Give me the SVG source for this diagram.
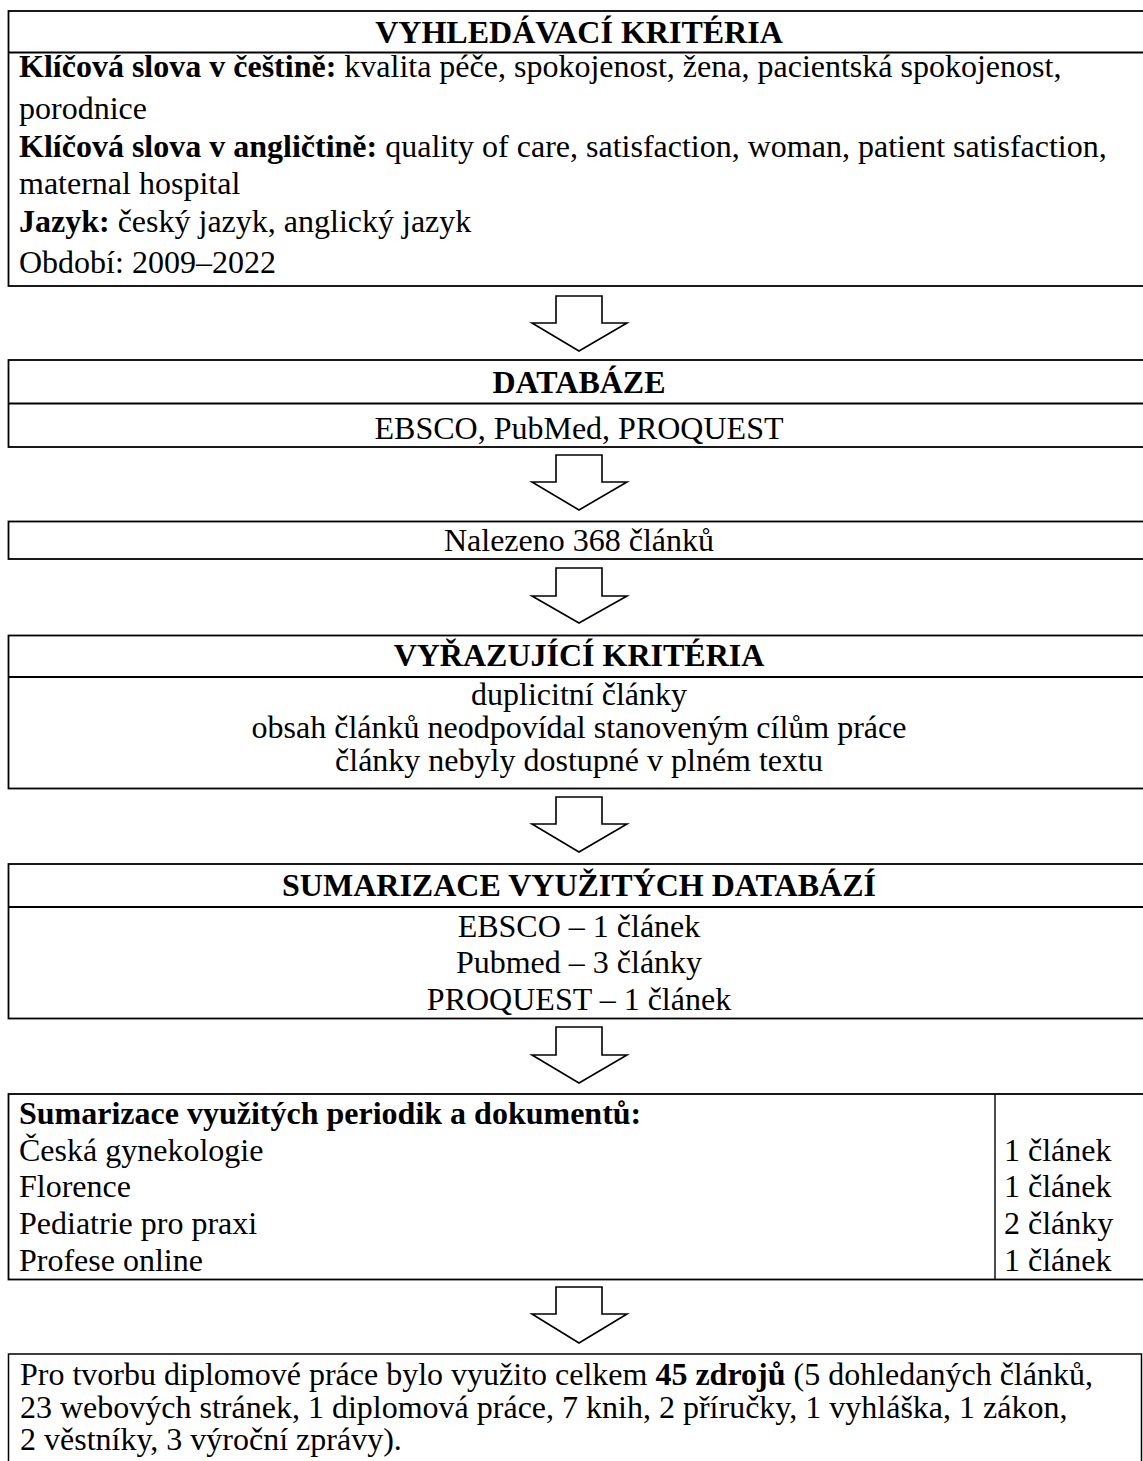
<svg xmlns="http://www.w3.org/2000/svg" width="1143" height="1461" viewBox="0 0 1143 1461">
<style>
  .box { fill: #ffffff; stroke: #000000; stroke-width: 1.8; }
  .ln { stroke: #000000; stroke-width: 1.8; fill: none; }
  .thin { stroke: #000000; stroke-width: 1.4; fill: none; }
  .arrow { fill: #ffffff; stroke: #000000; stroke-width: 1.6; stroke-linejoin: miter; }
  text { font-family: "Liberation Serif", "Times New Roman", serif; font-size: 32px; fill: #000000; }
  .b { font-weight: bold; }
  .c { text-anchor: middle; }
</style>
<rect x="0" y="0" width="1143" height="1461" fill="#ffffff"/>

<g id="node-vyhledavaci">
  <rect class="box" x="8.5" y="11" width="1142" height="275"/>
  <line class="ln" x1="8.5" y1="52.5" x2="1150" y2="52.5"/>
  <text class="b c" x="579" y="43">VYHLEDÁVACÍ KRITÉRIA</text>
  <text x="19" y="77"><tspan class="b">Klíčová slova v češtině:</tspan> kvalita péče, spokojenost, žena, pacientská spokojenost,</text>
  <text x="19" y="119">porodnice</text>
  <text x="19" y="157"><tspan class="b">Klíčová slova v angličtině:</tspan> quality of care, satisfaction, woman, patient satisfaction,</text>
  <text x="19" y="194">maternal hospital</text>
  <text x="19" y="232"><tspan class="b">Jazyk:</tspan> český jazyk, anglický jazyk</text>
  <text x="19" y="273">Období: 2009–2022</text>
</g>

<g id="node-databaze">
  <rect class="box" x="8.5" y="360" width="1142" height="87"/>
  <line class="ln" x1="8.5" y1="403.5" x2="1150" y2="403.5"/>
  <text class="b c" x="579" y="393">DATABÁZE</text>
  <text class="c" x="579" y="439">EBSCO, PubMed, PROQUEST</text>
</g>

<g id="node-nalezeno">
  <rect class="box" x="8.5" y="521.5" width="1142" height="37.5"/>
  <text class="c" x="579" y="551">Nalezeno 368 článků</text>
</g>

<g id="node-vyrazujici">
  <rect class="box" x="8.5" y="635.5" width="1142" height="153"/>
  <line class="ln" x1="8.5" y1="677" x2="1150" y2="677"/>
  <text class="b c" x="579" y="666">VYŘAZUJÍCÍ KRITÉRIA</text>
  <text class="c" x="579" y="705">duplicitní články</text>
  <text class="c" x="579" y="738">obsah článků neodpovídal stanoveným cílům práce</text>
  <text class="c" x="579" y="771">články nebyly dostupné v plném textu</text>
</g>

<g id="node-sumarizace-databazi">
  <rect class="box" x="8.5" y="864" width="1142" height="154.5"/>
  <line class="ln" x1="8.5" y1="907" x2="1150" y2="907"/>
  <text class="b c" x="579" y="896">SUMARIZACE VYUŽITÝCH DATABÁZÍ</text>
  <text class="c" x="579" y="937">EBSCO – 1 článek</text>
  <text class="c" x="579" y="973">Pubmed – 3 články</text>
  <text class="c" x="579" y="1010">PROQUEST – 1 článek</text>
</g>

<g id="node-periodika">
  <rect class="box" x="8.5" y="1094" width="1142" height="185.5"/>
  <line class="thin" x1="995" y1="1094" x2="995" y2="1279.5"/>
  <text class="b" x="19" y="1124">Sumarizace využitých periodik a dokumentů:</text>
  <text x="19" y="1161">Česká gynekologie</text>
  <text x="19" y="1197">Florence</text>
  <text x="19" y="1234">Pediatrie pro praxi</text>
  <text x="19" y="1271">Profese online</text>
  <text x="1004" y="1161">1 článek</text>
  <text x="1004" y="1197">1 článek</text>
  <text x="1004" y="1234">2 články</text>
  <text x="1004" y="1271">1 článek</text>
</g>

<g id="node-zdroje">
  <rect class="box" x="8.5" y="1354" width="1133" height="120" style="stroke-width:1.5"/>
  <text x="20" y="1385">Pro tvorbu diplomové práce bylo využito celkem <tspan class="b">45 zdrojů</tspan> (5 dohledaných článků,</text>
  <text x="20" y="1418">23 webových stránek, 1 diplomová práce, 7 knih, 2 příručky, 1 vyhláška, 1 zákon,</text>
  <text x="20" y="1450">2 věstníky, 3 výroční zprávy).</text>
</g>

<g id="connectors">
  <polygon class="arrow" points="556,296 602,296 602,323 627,323 579,351 532,323 556,323"/>
  <polygon class="arrow" points="556,455 602,455 602,482 627,482 579,510 532,482 556,482"/>
  <polygon class="arrow" points="556,568 602,568 602,596 627,596 579,623 532,596 556,596"/>
  <polygon class="arrow" points="556,797 602,797 602,824 627,824 579,852 532,824 556,824"/>
  <polygon class="arrow" points="556,1027 602,1027 602,1055 627,1055 579,1083 532,1055 556,1055"/>
  <polygon class="arrow" points="556,1287 602,1287 602,1314 627,1314 579,1343 532,1314 556,1314"/>
</g>
</svg>
